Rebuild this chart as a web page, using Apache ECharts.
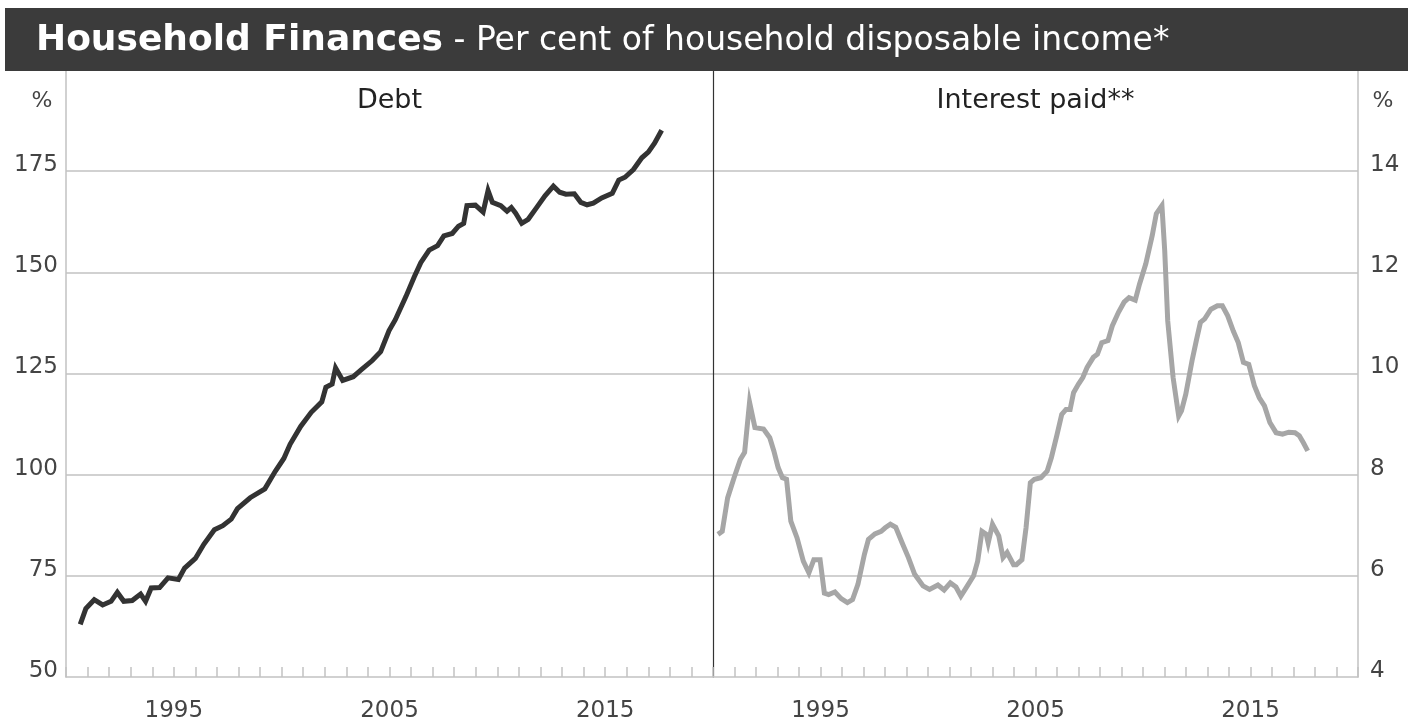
<!DOCTYPE html>
<html><head><meta charset="utf-8">
<script src="https://cdn.jsdelivr.net/npm/echarts@6/dist/echarts.min.js"></script>
<style>html,body{margin:0;padding:0;background:#fff}#c{width:1408px;height:723px}</style>
</head><body><div id="c"></div>
<script>
// ---- data ----
const debtYears = [1990.66,1990.92,1991.31,1991.7,1992.09,1992.38,1992.68,1993.07,1993.46,1993.69,1993.95,1994.34,1994.73,1995.21,1995.5,1996.0,1996.39,1996.88,1997.27,1997.66,1997.95,1998.54,1999.22,1999.71,2000.1,2000.39,2000.88,2001.37,2001.86,2002.05,2002.34,2002.5,2002.83,2003.32,2003.71,2004.2,2004.59,2004.98,2005.27,2005.76,2006.15,2006.45,2006.84,2007.23,2007.52,2007.91,2008.2,2008.44,2008.59,2008.98,2009.34,2009.57,2009.77,2010.16,2010.45,2010.65,2010.84,2011.13,2011.43,2011.82,2012.21,2012.6,2012.89,2013.18,2013.57,2013.87,2014.16,2014.45,2014.84,2015.33,2015.63,2015.92,2016.31,2016.7,2017.0,2017.29,2017.62];
const debtValues = [63.0,66.9,69.1,67.8,68.7,70.9,68.7,68.9,70.5,68.7,72.0,72.1,74.5,74.1,76.9,79.3,82.8,86.4,87.4,89.0,91.6,94.3,96.5,100.9,104.0,107.5,111.9,115.4,118.0,121.6,122.4,126.4,123.3,124.2,126.0,128.2,130.4,135.6,138.3,144.0,148.9,152.4,155.5,156.6,159.0,159.6,161.4,162.1,166.5,166.6,164.9,170.2,167.3,166.5,165.1,166.0,164.7,162.1,163.1,166.0,168.9,171.3,169.8,169.3,169.4,167.3,166.7,167.1,168.4,169.5,172.8,173.5,175.4,178.3,179.7,181.9,185.1];
const interestYears = [1990.23,1990.43,1990.68,1990.98,1991.27,1991.47,1991.7,1991.95,1992.35,1992.64,1992.83,1993.03,1993.23,1993.42,1993.62,1993.91,1994.2,1994.46,1994.69,1994.98,1995.18,1995.38,1995.67,1995.96,1996.25,1996.49,1996.74,1997.04,1997.23,1997.53,1997.82,1998.01,1998.25,1998.5,1998.8,1999.09,1999.38,1999.77,2000.07,2000.46,2000.75,2001.04,2001.3,2001.53,2001.83,2002.12,2002.31,2002.51,2002.71,2002.8,2003.0,2003.29,2003.49,2003.68,2003.98,2004.11,2004.37,2004.56,2004.76,2004.95,2005.25,2005.54,2005.74,2005.99,2006.22,2006.42,2006.61,2006.77,2007.0,2007.2,2007.4,2007.69,2007.88,2008.08,2008.37,2008.57,2008.86,2009.12,2009.35,2009.64,2009.84,2010.13,2010.43,2010.62,2010.88,2011.01,2011.15,2011.4,2011.66,2011.79,2011.99,2012.28,2012.48,2012.67,2012.87,2013.16,2013.46,2013.69,2013.94,2014.2,2014.43,2014.67,2014.92,2015.18,2015.41,2015.65,2015.9,2016.19,2016.49,2016.78,2017.07,2017.27,2017.46,2017.66];
const interestValues = [6.82,6.88,7.54,7.94,8.30,8.44,9.43,8.93,8.90,8.73,8.47,8.14,7.94,7.91,7.08,6.75,6.29,6.06,6.32,6.32,5.66,5.63,5.68,5.55,5.47,5.53,5.83,6.42,6.72,6.83,6.88,6.95,7.02,6.96,6.65,6.36,6.03,5.80,5.73,5.82,5.72,5.86,5.78,5.60,5.80,6.0,6.29,6.88,6.82,6.65,7.02,6.79,6.36,6.46,6.22,6.22,6.32,6.95,7.84,7.91,7.94,8.07,8.34,8.77,9.19,9.29,9.29,9.62,9.79,9.92,10.12,10.32,10.38,10.61,10.65,10.94,11.21,11.41,11.50,11.45,11.77,12.17,12.73,13.16,13.32,12.43,11.04,9.92,9.16,9.26,9.59,10.25,10.65,11.01,11.08,11.27,11.34,11.34,11.14,10.84,10.61,10.22,10.18,9.76,9.52,9.36,9.03,8.83,8.80,8.84,8.83,8.77,8.63,8.47];
const xTickLabels = [1995, 2005, 2015];
const leftTickLabels = [50, 75, 100, 125, 150, 175];
const rightTickLabels = [4, 6, 8, 10, 12, 14];
const titleMain = 'Household Finances';
const titleSub = ' - Per cent of household disposable income*';
const panelTitles = ['Debt', 'Interest paid**'];
const unitLabel = '%';

// ---- chart ----
const FONT = '"DejaVu Sans", sans-serif';
const chart = echarts.init(document.getElementById('c'));
const G0 = {left: 66, top: 70, width: 647, height: 609};
const G1 = {left: 713, top: 70, width: 645, height: 609};
const axisGray = '#c2c2c2';

function xAxis(gi) {
  return {
    type: 'value', gridIndex: gi, min: 1990, max: 2020, interval: 1,
    axisLine: {show: true, lineStyle: {color: axisGray, width: 1.5}},
    axisTick: {show: true, inside: true, length: 10, lineStyle: {color: axisGray, width: 1.5}},
    axisLabel: {show: true, margin: 23, fontFamily: FONT, fontSize: 23, color: '#444',
      formatter: v => xTickLabels.includes(v) ? String(v) : ''},
    splitLine: {show: false}
  };
}
function yAxis(gi, pos, min, max, step, labels, show) {
  return {
    type: 'value', gridIndex: gi, position: pos, min: min, max: max, interval: step,
    axisLine: {show: true, onZero: false, lineStyle: {color: show ? axisGray : '#333', width: show ? 1.5 : 1.2}},
    axisTick: {show: false},
    axisLabel: {show: show, margin: pos === 'left' ? 8 : 12, fontFamily: FONT, fontSize: 23, color: '#444',
      verticalAlign: 'bottom', lineHeight: 12,
      formatter: v => labels.includes(v) ? String(v) : ''},
    splitLine: {show: show, showMinLine: false, showMaxLine: false, lineStyle: {color: axisGray, width: 1.5}}
  };
}

const option = {
  animation: false,
  backgroundColor: '#fff',
  grid: [Object.assign({}, G0), Object.assign({}, G1)],
  xAxis: [xAxis(0), xAxis(1)],
  yAxis: [
    yAxis(0, 'left', 50, 200, 25, leftTickLabels, true),
    yAxis(1, 'right', 4, 16, 2, rightTickLabels, true),
    yAxis(1, 'left', 4, 16, 2, rightTickLabels, false)
  ],
  series: [
    {type: 'line', xAxisIndex: 0, yAxisIndex: 0, showSymbol: false, z: 5,
     data: debtYears.map((y, i) => [y, debtValues[i]]),
     lineStyle: {color: '#333333', width: 5, join: 'miter'}},
    {type: 'line', xAxisIndex: 1, yAxisIndex: 1, showSymbol: false, z: 5,
     data: interestYears.map((y, i) => [y, interestValues[i]]),
     lineStyle: {color: '#a6a6a6', width: 5, join: 'miter'}}
  ],
  graphic: [
    {type: 'rect', z: 100, shape: {x: 5, y: 8, width: 1403, height: 63}, style: {fill: '#3b3b3b'}},
    {type: 'text', z: 101, x: 36, y: 41, style: {
      text: '{a|' + titleMain + '}{b|' + titleSub + '}',
      textVerticalAlign: 'middle', fill: '#fff',
      rich: {a: {fontFamily: FONT, fontWeight: 'bold', fontSize: 36, fill: '#fff', color: '#fff'},
             b: {fontFamily: FONT, fontSize: 33, fill: '#fff', color: '#fff'}}
    }},
    {type: 'text', z: 101, x: 42, y: 101, style: {text: unitLabel, font: '22px ' + FONT, fill: '#444', textAlign: 'center', textVerticalAlign: 'middle'}},
    {type: 'text', z: 101, x: 1383, y: 101, style: {text: unitLabel, font: '22px ' + FONT, fill: '#444', textAlign: 'center', textVerticalAlign: 'middle'}},
    {type: 'text', z: 101, x: G0.left + G0.width / 2, y: 101, style: {text: panelTitles[0], font: '27px ' + FONT, fill: '#222', textAlign: 'center', textVerticalAlign: 'middle'}},
    {type: 'text', z: 101, x: G1.left + G1.width / 2, y: 101, style: {text: panelTitles[1], font: '27px ' + FONT, fill: '#222', textAlign: 'center', textVerticalAlign: 'middle'}}
  ]
};
chart.setOption(option);
</script></body></html>
